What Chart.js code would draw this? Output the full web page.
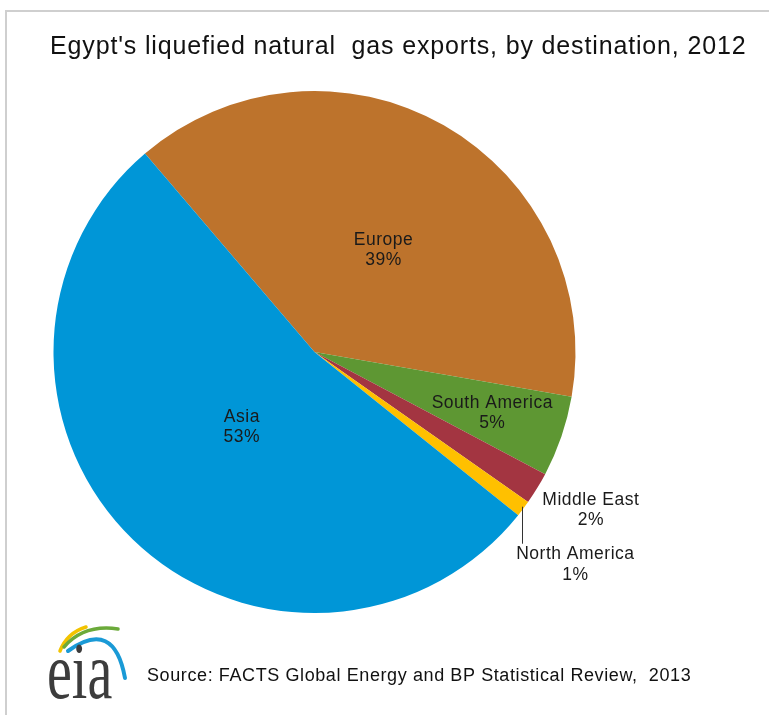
<!DOCTYPE html>
<html>
<head>
<meta charset="utf-8">
<script src="https://cdn.jsdelivr.net/npm/chart.js@4.4.0/dist/chart.umd.min.js"></script>
<style>
  html, body { margin:0; padding:0; background:#fff; }
  #wrap { width:769px; height:715px; position:relative; }
</style>
</head>
<body>
<div id="wrap"><canvas id="pie" width="769" height="715"></canvas></div>
<script>
// LNG exports by destination, 2012 (percent of total)
const regions = ['Europe', 'South America', 'Middle East', 'North America', 'Asia'];
const shares = [39, 5, 2, 1, 53];
const sliceColors = ['#BD732C', '#5E9733', '#A33541', '#FFC000', '#0096D7'];

const titleText = "Egypt's liquefied natural  gas exports, by destination, 2012";
const sourceText = 'Source: FACTS Global Energy and BP Statistical Review,  2013';

// label placement: fraction of radius + angle nudge (deg) from the slice middle,
// or a leader line dropped from the rim
const labelPlace = [
  { r:0.472, da:4.4 },
  { r:0.72, da:0 },
  { r:1.22, da:-1.7 },
  { leader:35 },
  { r:0.40, da:0 }
];

const FONT = '"Liberation Sans", Arial, sans-serif';

const decor = {
  id:'decor',
  beforeDraw(chart){
    const c = chart.ctx;
    c.save();
    c.fillStyle = '#fff';
    c.fillRect(0, 0, chart.width, chart.height);
    c.strokeStyle = '#cfcfcf';
    c.lineWidth = 2;
    c.strokeRect(6, 11, 820, 820);
    c.restore();
  },
  afterDraw(chart){
    const c = chart.ctx;
    c.save();
    // title
    c.fillStyle = '#111';
    c.font = '25px ' + FONT;
    c.letterSpacing = '0.85px';
    c.textAlign = 'left';
    c.textBaseline = 'alphabetic';
    c.fillText(titleText, 50, 54);

    // slice labels
    const meta = chart.getDatasetMeta(0);
    c.font = '17.5px ' + FONT;
    c.letterSpacing = '0.5px';
    c.fillStyle = '#1a1a1a';
    meta.data.forEach((arc, i) => {
      const p = arc.getProps(['x','y','startAngle','endAngle','outerRadius']);
      const mid = (p.startAngle + p.endAngle) / 2;
      const pl = labelPlace[i];
      const txt = [regions[i], shares[i] + '%'];
      c.textAlign = 'center';
      c.textBaseline = 'middle';
      if (pl.leader){
        const ex = p.x + Math.cos(mid) * p.outerRadius;
        const ey = p.y + Math.sin(mid) * p.outerRadius;
        c.strokeStyle = '#333';
        c.lineWidth = 1;
        c.beginPath();
        c.moveTo(Math.round(ex) - 0.5, ey - 2);
        c.lineTo(Math.round(ex) - 0.5, ey + pl.leader);
        c.stroke();
        const w = c.measureText(txt[0]).width;
        const cx = ex - 7 + w / 2;
        c.fillText(txt[0], cx, ey + pl.leader + 10);
        c.fillText(txt[1], cx, ey + pl.leader + 31);
      } else {
        const a = mid + pl.da * Math.PI / 180;
        const lx = p.x + Math.cos(a) * p.outerRadius * pl.r;
        const ly = p.y + Math.sin(a) * p.outerRadius * pl.r;
        c.fillText(txt[0], lx, ly - 10);
        c.fillText(txt[1], lx, ly + 10);
      }
    });

    // eia logo: three swooshes over the letters
    c.letterSpacing = '0px';
    c.lineCap = 'round';
    c.lineWidth = 3.5;
    c.strokeStyle = '#F2C300';
    c.beginPath(); c.moveTo(60, 651); c.quadraticCurveTo(67, 633, 86, 627); c.stroke();
    c.strokeStyle = '#6BAA3A';
    c.beginPath(); c.moveTo(64, 647); c.quadraticCurveTo(84, 624, 118, 629); c.stroke();
    c.strokeStyle = '#1A9AD6';
    c.lineWidth = 4;
    c.beginPath(); c.moveTo(68, 651); c.quadraticCurveTo(114, 618, 125, 678); c.stroke();
    c.fillStyle = '#3c3c3c';
    c.save();
    c.translate(47, 698);
    c.scale(0.7, 1);
    c.font = '80px "Liberation Serif", "Times New Roman", serif';
    c.textAlign = 'left';
    c.textBaseline = 'alphabetic';
    c.fillText('eia', 0, 0);
    c.restore();

    // source line
    c.fillStyle = '#111';
    c.font = '18px ' + FONT;
    c.letterSpacing = '0.6px';
    c.textAlign = 'left';
    c.textBaseline = 'alphabetic';
    c.fillText(sourceText, 147, 681);
    c.restore();
  }
};

new Chart(document.getElementById('pie'), {
  type:'pie',
  data:{
    labels:regions,
    datasets:[{ data:shares, backgroundColor:sliceColors, borderWidth:0 }]
  },
  options:{
    responsive:false,
    animation:false,
    rotation:-40.5,
    layout:{ padding:{ left:53, right:193, top:91, bottom:102 } },
    plugins:{ legend:{ display:false }, tooltip:{ enabled:false }, title:{ display:false } }
  },
  plugins:[decor]
});
</script>
</body>
</html>
